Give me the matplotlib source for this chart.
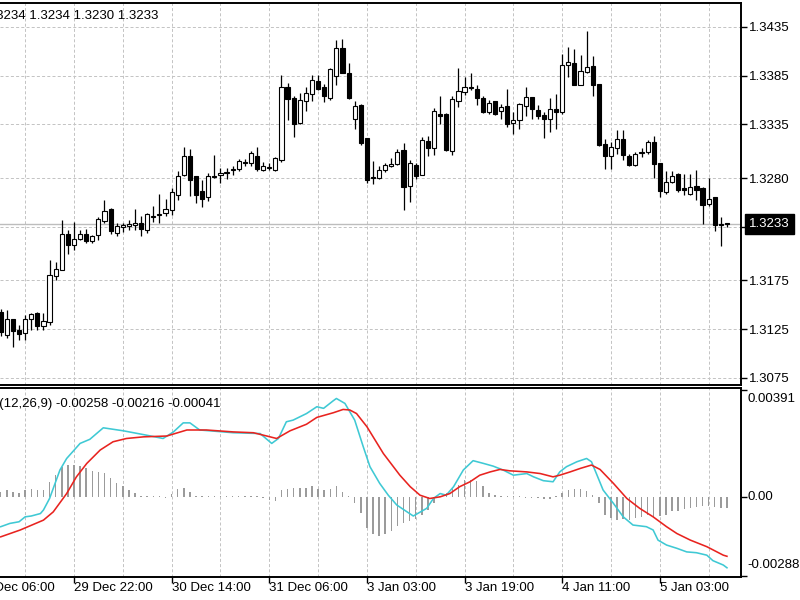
import matplotlib
matplotlib.use("Agg")
import matplotlib.pyplot as plt
from matplotlib.patches import Rectangle
import matplotlib.transforms as mtransforms

# ---------------- data (EURUSD H1) ----------------
opens = [1.3143, 1.3119, 1.3135, 1.3124, 1.3121, 1.3136, 1.3142, 1.3128, 1.3132, 1.3180,
         1.3186, 1.3223, 1.3211, 1.3218, 1.3223, 1.3215, 1.3222, 1.3236, 1.3248, 1.3224,
         1.3230, 1.3231, 1.3232, 1.3234, 1.3227, 1.3240, 1.3242, 1.3244, 1.3247, 1.3263,
         1.3283, 1.3303, 1.3282, 1.3267, 1.3261, 1.3282, 1.3283, 1.3285, 1.3288, 1.3289,
         1.3297, 1.3296, 1.3303, 1.3288, 1.3290, 1.3288, 1.3299, 1.3373, 1.3362, 1.3337,
         1.3359, 1.3366, 1.3380, 1.3373, 1.3362, 1.3385, 1.3413, 1.3388, 1.3341, 1.3355,
         1.3321, 1.3281, 1.3280, 1.3288, 1.3292, 1.3294, 1.3309, 1.3272, 1.3293, 1.3283,
         1.3318, 1.3311, 1.3346, 1.3346, 1.3308, 1.3359, 1.3368, 1.3373, 1.3371, 1.3362,
         1.3348, 1.3359, 1.3349, 1.3354, 1.3337, 1.3340, 1.3354, 1.3363, 1.3350, 1.3345,
         1.3341, 1.3351, 1.3348, 1.3396, 1.3398, 1.3376, 1.3389, 1.3395, 1.3377, 1.3315,
         1.3303, 1.3311, 1.3320, 1.3303, 1.3293, 1.3306, 1.3307, 1.3317, 1.3295, 1.3266,
         1.3276, 1.3284, 1.3270, 1.3264, 1.3272, 1.3270, 1.3253, 1.3261, 1.3233, 1.3234]
highs = [1.3146, 1.3145, 1.3136, 1.3129, 1.3140, 1.3142, 1.3143, 1.3142, 1.3196, 1.3194,
         1.3237, 1.3227, 1.3235, 1.3227, 1.3228, 1.3222, 1.3240, 1.3258, 1.3249, 1.3234,
         1.3234, 1.3237, 1.3248, 1.3241, 1.3244, 1.3251, 1.3264, 1.3259, 1.3270, 1.3287,
         1.3312, 1.3310, 1.3282, 1.3278, 1.3285, 1.3304, 1.3290, 1.3290, 1.3292, 1.3300,
         1.3300, 1.3308, 1.3312, 1.3297, 1.3295, 1.3302, 1.3386, 1.3378, 1.3364, 1.3367,
         1.3373, 1.3386, 1.3386, 1.3377, 1.3393, 1.3422, 1.3423, 1.3398, 1.3359, 1.3356,
         1.3321, 1.3298, 1.3292, 1.3296, 1.3301, 1.3310, 1.3316, 1.3299, 1.3295, 1.3322,
         1.3323, 1.3352, 1.3364, 1.3347, 1.3364, 1.3393, 1.3384, 1.3388, 1.3376, 1.3364,
         1.3360, 1.3359, 1.3356, 1.3371, 1.3348, 1.3357, 1.3373, 1.3363, 1.3355, 1.3348,
         1.3362, 1.3366, 1.3407, 1.3414, 1.3412, 1.3406, 1.3431, 1.3405, 1.3377, 1.3320,
         1.3317, 1.3329, 1.3329, 1.3305, 1.3307, 1.3311, 1.3319, 1.3323, 1.3296, 1.3287,
         1.3287, 1.3285, 1.3284, 1.3284, 1.3288, 1.3271, 1.3280, 1.3261, 1.3240, 1.3234]
lows = [1.3118, 1.3116, 1.3107, 1.3114, 1.3114, 1.3124, 1.3124, 1.3124, 1.3129, 1.3176,
        1.3186, 1.3202, 1.3206, 1.3217, 1.3213, 1.3213, 1.3217, 1.3234, 1.3223, 1.3221,
        1.3225, 1.3227, 1.3227, 1.3221, 1.3224, 1.3235, 1.3234, 1.3241, 1.3242, 1.3258,
        1.3282, 1.3262, 1.3254, 1.3250, 1.3257, 1.3280, 1.3275, 1.3279, 1.3283, 1.3287,
        1.3292, 1.3292, 1.3287, 1.3287, 1.3288, 1.3287, 1.3297, 1.3340, 1.3322, 1.3335,
        1.3349, 1.3359, 1.3370, 1.3358, 1.3360, 1.3376, 1.3388, 1.3361, 1.3330, 1.3314,
        1.3275, 1.3274, 1.3279, 1.3286, 1.3291, 1.3293, 1.3247, 1.3255, 1.3279, 1.3283,
        1.3303, 1.3304, 1.3336, 1.3308, 1.3304, 1.3353, 1.3365, 1.3370, 1.3355, 1.3347,
        1.3346, 1.3345, 1.3341, 1.3332, 1.3325, 1.3330, 1.3344, 1.3341, 1.3341, 1.3321,
        1.3327, 1.3330, 1.3346, 1.3384, 1.3375, 1.3375, 1.3388, 1.3364, 1.3313, 1.3289,
        1.3289, 1.3305, 1.3299, 1.3292, 1.3292, 1.3302, 1.3305, 1.3280, 1.3261, 1.3264,
        1.3275, 1.3266, 1.3263, 1.3263, 1.3258, 1.3233, 1.3251, 1.3226, 1.3210, 1.3230]
closes = [1.3122, 1.3136, 1.3123, 1.3120, 1.3136, 1.3141, 1.3128, 1.3133, 1.3181, 1.3187,
          1.3223, 1.3211, 1.3218, 1.3223, 1.3215, 1.3221, 1.3238, 1.3246, 1.3226, 1.3231,
          1.3232, 1.3233, 1.3234, 1.3228, 1.3243, 1.3241, 1.3243, 1.3248, 1.3266, 1.3282,
          1.3303, 1.3278, 1.3263, 1.3259, 1.3282, 1.3281, 1.3285, 1.3286, 1.3289, 1.3298,
          1.3296, 1.3306, 1.3289, 1.3292, 1.3291, 1.3301, 1.3373, 1.3361, 1.3336, 1.3360,
          1.3367, 1.3381, 1.3371, 1.3364, 1.3392, 1.3413, 1.3388, 1.3362, 1.3354, 1.3316,
          1.3278, 1.3280, 1.3288, 1.3293, 1.3294, 1.3307, 1.3271, 1.3295, 1.3282, 1.3319,
          1.3311, 1.3349, 1.3344, 1.3309, 1.3361, 1.3369, 1.3373, 1.3372, 1.3362, 1.3348,
          1.3357, 1.3346, 1.3353, 1.3336, 1.3340, 1.3356, 1.3363, 1.3351, 1.3344, 1.3341,
          1.3351, 1.3348, 1.3396, 1.3399, 1.3376, 1.3390, 1.3394, 1.3376, 1.3314, 1.3303,
          1.3312, 1.3320, 1.3304, 1.3293, 1.3305, 1.3307, 1.3317, 1.3294, 1.3267, 1.3276,
          1.3282, 1.3268, 1.3268, 1.3271, 1.3268, 1.3252, 1.3259, 1.3232, 1.3232, 1.3233]

# MACD main line (cyan) read at bar positions
macd_pos = [0, 1.5, 3, 4, 5, 6.5, 7, 8, 9.7, 10.8, 13, 14.6, 16.8, 20.1, 23.9, 26.6, 28.3,
            29.9, 31, 32.6, 38.1, 42.5, 44.4, 45.5, 46.8, 47.9, 50.1, 51.8, 52.9, 54.5, 55,
            56.4, 58, 59.4, 60.5, 62.1, 63.5, 64.9, 67.6, 69.8, 70.9, 72, 73, 74.2, 75.8,
            77.4, 79.1, 80.7, 82.3, 84, 86.2, 87.3, 88.9, 90.5, 91.6, 92.7, 94.4, 96, 96.8,
            97.6, 98.7, 100.4, 102, 103.6, 105.8, 106.9, 107.7, 109.1, 110.8, 112.4, 114,
            115.7, 116.7, 118.4, 119]
macd_vals = [-0.00108, -0.00096, -0.00090, -0.00072, -0.00069, -0.00060, -0.00047, -0.00005,
             0.00099, 0.00141, 0.00196, 0.00211, 0.00253, 0.00242, 0.00226, 0.00214, 0.00238,
             0.00271, 0.00271, 0.00245, 0.00235, 0.00232, 0.00196, 0.00214, 0.00275, 0.00281,
             0.00305, 0.00330, 0.00324, 0.00352, 0.00360, 0.00342, 0.00281, 0.00184, 0.00111,
             0.00050, 0.00007, -0.00029, -0.00069, -0.00041, -0.00005, 0.00013, 0.00007,
             0.00038, 0.00099, 0.00133, 0.00123, 0.00113, 0.00099, 0.00080, 0.00086, 0.00074,
             0.00060, 0.00056, 0.00092, 0.00111, 0.00129, 0.00141, 0.00129, 0.00086, 0.00026,
             -0.00023, -0.00072, -0.00102, -0.00108, -0.00120, -0.00157, -0.00175, -0.00187,
             -0.00200, -0.00203, -0.00212, -0.00232, -0.00248, -0.00258]

# signal line (red)
signal_pos = [0, 3.2, 7, 8.6, 10.8, 12.4, 14.1, 16.3, 18.4, 20.6, 23.4, 27.2, 30.5, 33.7,
              38.1, 41.4, 43.6, 45.2, 47.4, 50.1, 51.8, 54.5, 56.1, 57.2, 58.3, 60, 62.7,
              65.4, 67.1, 68.7, 70.3, 72, 73.6, 75.2, 76.9, 78.5, 80.2, 81.8, 83.4, 86.2,
              88.4, 90.5, 91.6, 93.3, 95, 96.8, 98.2, 100.4, 102.6, 104.7, 106.9, 109.1,
              110.8, 113, 115.7, 118.4, 119]
signal_vals = [-0.00145, -0.00120, -0.00084, -0.00054, 0.00013, 0.00074, 0.00123, 0.00172,
               0.00202, 0.00214, 0.00220, 0.00223, 0.00245, 0.00245, 0.00238, 0.00235,
               0.00223, 0.00214, 0.00242, 0.00266, 0.00291, 0.00308, 0.00320, 0.00318,
               0.00305, 0.00257, 0.00159, 0.00080, 0.00038, 0.00007, -0.00005, 0.00001,
               0.00013, 0.00038, 0.00056, 0.00080, 0.00092, 0.00101, 0.00096, 0.00092,
               0.00086, 0.00074, 0.00080, 0.00092, 0.00105, 0.00117, 0.00101, 0.00050,
               -0.00005, -0.00041, -0.00072, -0.00108, -0.00133, -0.00157, -0.00181,
               -0.00212, -0.00216]

# histogram (one value per bar)
hist_vals = [0.00020, 0.00025, 0.00020, 0.00015, 0.00025, 0.00030, 0.00025, 0.00025, 0.00055, 0.00080,
             0.00110, 0.00118, 0.00118, 0.00115, 0.00105, 0.00095, 0.00090, 0.00088, 0.00070, 0.00050,
             0.00040, 0.00025, 0.00015, 0.00005, 0.00003, 0.00003, 0.00003, -0.00003, 0.00010, 0.00028,
             0.00035, 0.00020, 0.00005, 0.00003, 0.00003, 0.00003, 0.00003, 0.00003, 0.00003, 0.00003,
             0.00003, 0.00003, 0.00003, -0.00005, -0.00010, -0.00015, 0.00025, 0.00030, 0.00035, 0.00035,
             0.00035, 0.00040, 0.00030, 0.00025, 0.00030, 0.00040, 0.00020, 0.00003, -0.00020, -0.00058,
             -0.00112, -0.00136, -0.00143, -0.00136, -0.00125, -0.00105, -0.00095, -0.00088, -0.00080, -0.00064,
             -0.00046, -0.00022, 0.00003, 0.00015, 0.00033, 0.00045, 0.00063, 0.00063, 0.00057, 0.00039,
             0.00015, 0.00008, 0.00003, 0.00003, 0.00003, 0.00003, -0.00003, -0.00003, -0.00005, -0.00007,
             -0.00006, 0.00003, 0.00015, 0.00027, 0.00029, 0.00029, 0.00023, 0.00008, -0.00022, -0.00064,
             -0.00077, -0.00082, -0.00080, -0.00082, -0.00077, -0.00071, -0.00065, -0.00071, -0.00068, -0.00065,
             -0.00052, -0.00049, -0.00044, -0.00040, -0.00036, -0.00032, -0.00032, -0.00036, -0.00040, -0.00041]

price_ticks = [1.3435, 1.3385, 1.3335, 1.3280, 1.3230, 1.3175, 1.3125, 1.3075]
price_labels = ["1.3435", "1.3385", "1.3335", "1.3280", "", "1.3175", "1.3125", "1.3075"]
last_price = 1.3233
macd_ticks = [0.00391, 0.0, -0.00288]
macd_labels = ["0.00391", "0.00", "-0.00288"]
date_pos = [-4, 12, 28, 44, 60, 76, 92, 108]
date_labels = ["29 Dec 06:00", "29 Dec 22:00", "30 Dec 14:00", "31 Dec 06:00",
               "3 Jan 03:00", "3 Jan 19:00", "4 Jan 11:00", "5 Jan 03:00"]
grid_pos = list(range(4, 120, 8))
header_text = "EURUSD,H1  1.3234 1.3234 1.3230 1.3233"
macd_text = "MACD(12,26,9) -0.00258 -0.00216 -0.00041"

# ---------------- figure ----------------
plt.rcParams["font.family"] = ["Liberation Sans", "DejaVu Sans"]
FS = 9.5
W, H = 800, 600
fig = plt.figure(figsize=(8, 6), dpi=100)
fig.patch.set_facecolor("white")


def rect(x0, y0, x1, y1):
    return [x0 / W, 1 - y1 / H, (x1 - x0) / W, (y1 - y0) / H]


ax = fig.add_axes(rect(0, 3, 741, 385))
ax2 = fig.add_axes(rect(0, 388, 741, 577))

XL = (-0.123, 121.3)
GRID_C = "#c4c4c4"
DASH = (0, (3.0, 2.2))
PX = 0.72

for a in (ax, ax2):
    a.set_xlim(*XL)
    a.set_facecolor("white")
    for s in ("top", "right", "bottom"):
        a.spines[s].set_linewidth(1.4)
        a.spines[s].set_color("black")
    a.spines["left"].set_visible(False)
    for gx in grid_pos:
        a.axvline(gx, color=GRID_C, lw=PX, ls=DASH, zorder=0)

# main price panel
ax.set_ylim(1.30678, 1.34596)
for p in price_ticks:
    ax.axhline(p, color=GRID_C, lw=PX, ls=DASH, zorder=0)
ax.axhline(last_price, color="#bdbdbd", lw=1.0, zorder=0.5)

bw = 0.68
for i, (o, h, l, c) in enumerate(zip(opens, highs, lows, closes)):
    ax.vlines(i, l, h, color="black", lw=0.9, zorder=2)
    bottom = min(o, c)
    height = max(abs(c - o), 0.00002)
    fc = "white" if c > o else "black"
    ax.add_patch(Rectangle((i - bw / 2, bottom), bw, height, facecolor=fc,
                           edgecolor="black", lw=0.8, zorder=3))

ax.yaxis.tick_right()
ax.set_yticks(price_ticks)
ax.set_yticklabels(price_labels, fontsize=FS)
ax.tick_params(axis="y", direction="out", length=4, width=1, pad=2, colors="black")
ax.set_xticks([])

trans = mtransforms.blended_transform_factory(ax.transAxes, ax.transData)
ax.text(1.0 + 8 / 741, last_price, "1.3233", transform=trans, fontsize=FS, color="white",
        va="center", ha="left",
        bbox=dict(boxstyle="square,pad=0.3", facecolor="black", edgecolor="black"))

fig.text(158 / W, 1 - 15 / H, header_text, ha="right", va="center", fontsize=FS)

# MACD panel
scale = 27393.0
ax2.set_ylim(-0.00288 - 1 / scale, 0.00391 + 2 / scale)
ax2.bar(range(len(hist_vals)), hist_vals, width=0.24, color="#9b9b9b", zorder=1)
ax2.plot(macd_pos, macd_vals, color="#3fc9d4", lw=1.15, zorder=3)
ax2.plot(signal_pos, signal_vals, color="#e8231f", lw=1.15, zorder=4)

ax2.yaxis.tick_right()
ax2.set_yticks(macd_ticks)
ax2.set_yticklabels([""] * len(macd_ticks))
ax2.tick_params(axis="y", direction="out", length=4, width=1, colors="black")
trans2 = mtransforms.blended_transform_factory(ax2.transAxes, ax2.transData)
label_pos = [0.00391 - 9 / scale, 0.0, -0.00288 + 11 / scale]
for v, t in zip(label_pos, macd_labels):
    ax2.text(1.0 + 6 / 741, v, t, transform=trans2, fontsize=FS, va="center", ha="left")

ax2.set_xticks([p for p in date_pos if p >= XL[0]])
ax2.set_xticklabels([])
ax2.tick_params(axis="x", direction="out", length=4, width=1, colors="black")
trans3 = mtransforms.blended_transform_factory(ax2.transData, ax2.transAxes)
for p, t in zip(date_pos, date_labels):
    ax2.text(p, -5 / 189, t, transform=trans3, fontsize=FS, va="top", ha="left",
             clip_on=False)

fig.text(221 / W, 1 - 404 / H, macd_text, ha="right", va="center", fontsize=FS)

fig.savefig("out.png", dpi=100)
